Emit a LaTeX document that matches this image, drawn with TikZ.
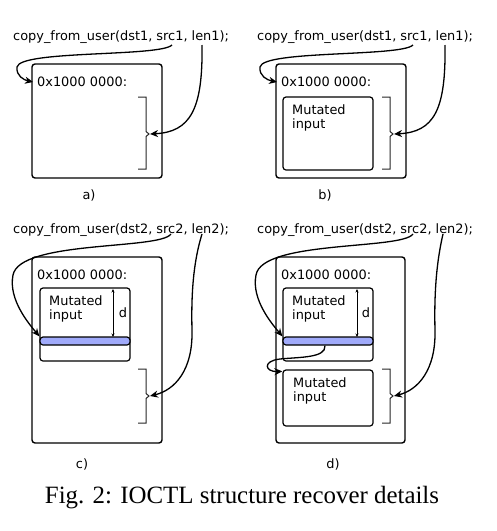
\documentclass[tikz,border=0pt]{standalone}
\usepackage{fontspec}
\setmainfont{Liberation Serif}
\newfontfamily\dvs{DejaVu Sans}
\usetikzlibrary{arrows.meta}
\definecolor{barblue}{RGB}{160,170,250}
\begin{document}
\begin{tikzpicture}[x=1pt,y=-1pt,
 txt/.style={font=\dvs\fontsize{12.9}{14}\selectfont, inner sep=0pt, anchor=base west},
 memory/.style={draw, line width=1.4pt, rounded corners=3pt, inner sep=0pt, minimum width=130pt},
 inbox/.style={draw, line width=1.2pt, rounded corners=3pt, inner sep=0pt, minimum width=90pt},
 barbox/.style={draw, fill=barblue, line width=1.2pt, rounded corners=3pt, inner sep=0pt, minimum width=90pt, minimum height=8pt},
 conn/.style={line width=1.3pt, -{Stealth[length=8pt,width=7pt,inset=2.5pt]}},
 brk/.style={line width=1pt, draw=black!85},
 darr/.style={line width=0.7pt, {Stealth[length=3.5pt,width=3pt]}-{Stealth[length=3.5pt,width=3pt]}},
 subcap/.style={font=\dvs\fontsize{12.9}{14}\selectfont, inner sep=0pt, anchor=center}
]
\useasboundingbox (0,0) rectangle (497,531);

% ---------- panel a ----------
\node[txt] (codeA) at (13,40.5) {copy\_from\_user(dst1, src1, len1);};
\coordinate (srcA) at (172,45);
\coordinate (lenA) at (202,45);
\node[memory, minimum height=114pt] (boxA) at (97,121) {};
\node[txt] (addrA) at (37,86.7) {0x1000 0000:};
\draw[brk] (138,97) -- (146,97) -- (146,131.5) -- (149,134) -- (146,136.5) -- (146,169) -- (138,169);
\coordinate (brA) at (150,134);
\draw[conn] (srcA) .. controls (160,57) and (20,50) .. (17,67) .. controls (16,76) and (24,80) .. ([xshift=-4pt]addrA.west);
\draw[conn] (lenA) .. controls (203,110) and (190,132) .. (brA);
\node[subcap] (capA) at (89,195) {a)};

% ---------- panel b ----------
\node[txt] (codeB) at (257,40.5) {copy\_from\_user(dst1, src1, len1);};
\coordinate (srcB) at (413,45);
\coordinate (lenB) at (445,45);
\node[memory, minimum height=114pt] (boxB) at (341,121) {};
\node[txt] (addrB) at (281,86.7) {0x1000 0000:};
\node[inbox, minimum height=73pt] (inB) at (328,133.5) {};
\node[txt] (mutB1) at (292,114) {Mutated};
\node[txt] (mutB2) at (292,128) {input};
\draw[brk] (382,97) -- (390,97) -- (390,131.5) -- (393,134) -- (390,136.5) -- (390,169) -- (382,169);
\coordinate (brB) at (394,134);
\draw[conn] (srcB) .. controls (401,57) and (263,50) .. (260,67) .. controls (259,76) and (267,80) .. ([xshift=-4pt]addrB.west);
\draw[conn] (lenB) .. controls (446,110) and (434,132) .. (brB);
\node[subcap] (capB) at (325,195) {b)};

% ---------- panel c ----------
\node[txt] (codeC) at (13,233.3) {copy\_from\_user(dst2, src2, len2);};
\coordinate (srcC) at (171,234);
\coordinate (lenC) at (202,234);
\node[memory, minimum height=186pt] (boxC) at (97,350) {};
\node[txt] (addrC) at (37,279.3) {0x1000 0000:};
\node[inbox, minimum height=73pt] (inC) at (85,324.5) {};
\node[barbox] (barC) at (85,341) {};
\node[txt] (mutC1) at (49,305) {Mutated};
\node[txt] (mutC2) at (49,319) {input};
\coordinate (dCt) at (113,289);
\coordinate (dCb) at (113,337);
\draw[darr] (dCt) -- (dCb);
\node[subcap] (dC) at (123,313) {d};
\draw[brk] (138,369) -- (146,369) -- (146,393.5) -- (149,396) -- (146,398.5) -- (146,423) -- (138,423);
\coordinate (brC) at (150,396);
\draw[conn] (srcC) .. controls (160,250) and (20,240) .. (13,275) .. controls (8,300) and (30,325) .. (barC.north west);
\draw[conn] (lenC) .. controls (194,260) and (191,290) .. (192,330) .. controls (193,370) and (175,390) .. (brC);
\node[subcap] (capC) at (82,464) {c)};

% ---------- panel d ----------
\node[txt] (codeD) at (257,233.3) {copy\_from\_user(dst2, src2, len2);};
\coordinate (srcD) at (413,234);
\coordinate (lenD) at (443,234);
\node[memory, minimum width=129pt, minimum height=186pt] (boxD) at (340.5,350) {};
\node[txt] (addrD) at (281,279.3) {0x1000 0000:};
\node[inbox, minimum height=73pt] (inD1) at (328,324.5) {};
\node[barbox] (barD) at (328,341) {};
\node[txt] (mutD1) at (292,305) {Mutated};
\node[txt] (mutD2) at (292,319) {input};
\coordinate (dDt) at (357,289);
\coordinate (dDb) at (357,337);
\draw[darr] (dDt) -- (dDb);
\node[subcap] (dD) at (366,313) {d};
\node[inbox, minimum height=56pt] (inD2) at (328,398) {};
\node[txt] (mutD3) at (293,387) {Mutated};
\node[txt] (mutD4) at (293,401) {input};
\draw[brk] (382,369) -- (390,369) -- (390,393.5) -- (393,396) -- (390,398.5) -- (390,423) -- (382,423);
\coordinate (brD) at (394,396);
\draw[conn] (srcD) .. controls (402,250) and (262,240) .. (256,275) .. controls (251,300) and (273,325) .. (barD.north west);
\draw[conn] (lenD) .. controls (437,260) and (434,290) .. (435,330) .. controls (436,370) and (418,390) .. (brD);
\draw[conn] ([xshift=-3pt]barD.south) .. controls (326,358) and (300,357) .. (280,359) .. controls (262,361) and (265,372) .. ([yshift=-2pt]inD2.north west);
\node[subcap] (capD) at (333,464) {d)};

% ---------- caption ----------
\node[font=\fontsize{24.9}{28}\selectfont, inner sep=0pt, anchor=base] (fig) at (242,503) {Fig. 2: IOCTL structure recover details};
\end{tikzpicture}
\end{document}
